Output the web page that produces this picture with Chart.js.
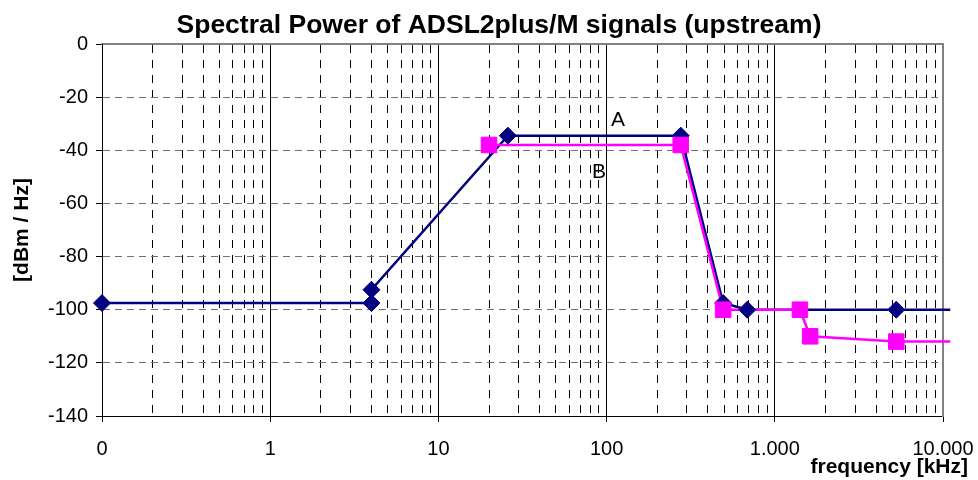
<!DOCTYPE html>
<html>
<head>
<meta charset="utf-8">
<script src="https://cdn.jsdelivr.net/npm/chart.js@4/dist/chart.umd.min.js"></script>
<style>
  body { margin: 0; background: #fff; }
</style>
</head>
<body>
<canvas id="psdChart" width="978" height="480"></canvas>
<script>
// frequency in kHz, level in dBm/Hz
const FREQ_A = [0.1, 4, 4, 25.875, 276, 493, 686, 5275, 11040];
const DBM_A = [-97.5, -97.5, -92.5, -34.5, -34.5, -97.5, -100, -100, -100];
const FREQ_B = [20, 276, 493, 1411, 1622, 5275, 11040];
const DBM_B = [-38, -38, -100, -100, -110, -112, -112];

const X_TICKS = [0.1, 1, 10, 100, 1000, 10000];
const X_TICK_LABELS = ['0', '1', '10', '100', '1.000', '10.000'];
const X_MINOR = [];
X_TICKS.slice(0, -1).forEach(d => {
    [2, 3, 4, 5, 6, 7, 8, 9].forEach(m => X_MINOR.push(d * m));
});
const Y_TICKS = [0, -20, -40, -60, -80, -100, -120, -140];

const SERIES_LABELS = [
    {text: 'A', x: 117, y: -28.6},
    {text: 'B', x: 90, y: -48.2}
];

const NAVY = '#000080';
const MAGENTA = '#FF00FF';
const FONT = 'Liberation Sans, Arial, Helvetica, sans-serif';

Chart.defaults.font.family = FONT;
Chart.defaults.color = '#000';

const toPoints = (xs, ys) => xs.map((x, i) => ({x: x, y: ys[i]}));
const markerRadius = (r) => (ctx) => (ctx.raw && ctx.raw.x > 10000 ? 0 : r);

// excel paints every line first, then the markers
const lineSet = (data, color, order) => ({
    data: data,
    borderColor: color,
    borderWidth: 2.5,
    pointRadius: 0,
    order: order,
    clip: false
});
const markerSet = (data, color, style, r, order) => ({
    data: data,
    showLine: false,
    backgroundColor: color,
    borderColor: color,
    pointStyle: style,
    pointRadius: markerRadius(r),
    pointBorderWidth: 1,
    order: order,
    clip: false
});

const textPlugin = {
    id: 'textLabels',
    afterDraw(chart) {
        const ctx = chart.ctx;
        const xs = chart.scales.x;
        const ys = chart.scales.y;
        ctx.save();
        ctx.fillStyle = '#000';
        ctx.font = 'bold 26.5px ' + FONT;
        ctx.textAlign = 'center';
        ctx.textBaseline = 'middle';
        ctx.fillText('Spectral Power of ADSL2plus/M signals (upstream)', 499, 26);
        ctx.font = '21px ' + FONT;
        SERIES_LABELS.forEach(l => {
            ctx.fillText(l.text, xs.getPixelForValue(l.x), ys.getPixelForValue(l.y));
        });
        ctx.font = 'bold 21px ' + FONT;
        ctx.textAlign = 'right';
        ctx.textBaseline = 'alphabetic';
        ctx.fillText('frequency [kHz]', 968, 473);
        ctx.restore();
    }
};

const dataA = toPoints(FREQ_A, DBM_A);
const dataB = toPoints(FREQ_B, DBM_B);

new Chart(document.getElementById('psdChart'), {
    type: 'line',
    data: {
        datasets: [
            lineSet(dataA, NAVY, 3),
            lineSet(dataB, MAGENTA, 2),
            markerSet(dataA, NAVY, 'rectRot', 8.5, 1),
            markerSet(dataB, MAGENTA, 'rect', 11, 0)
        ]
    },
    options: {
        responsive: false,
        animation: false,
        layout: {padding: {left: 0, right: 0, top: 44, bottom: 0}},
        plugins: {
            legend: {display: false},
            tooltip: {enabled: false},
            title: {display: false}
        },
        scales: {
            x: {
                type: 'logarithmic',
                position: 'bottom',
                min: 0.1,
                max: 10000,
                afterBuildTicks: (s) => { s.ticks = X_TICKS.map(v => ({value: v})); },
                afterFit: (s) => {
                    s.height = 64;
                    // tick padding should not push the plot in from the side
                    s.paddingLeft = 0;
                    s.paddingRight = 0;
                },
                ticks: {
                    autoSkip: false,
                    maxRotation: 0,
                    padding: 15,
                    font: {size: 20},
                    callback: (v, i) => X_TICK_LABELS[i]
                },
                grid: {
                    color: (c) => (c.index === 0 || c.index === X_TICKS.length - 1 ? 'rgba(0,0,0,0)' : '#000'),
                    lineWidth: 1,
                    tickColor: '#000',
                    tickLength: 6
                },
                border: {color: '#000', width: 1}
            },
            xm: {
                type: 'logarithmic',
                position: 'top',
                min: 0.1,
                max: 10000,
                afterBuildTicks: (s) => { s.ticks = X_MINOR.map(v => ({value: v})); },
                afterFit: (s) => { s.height = 0; },
                ticks: {display: false},
                grid: {color: '#000', lineWidth: 1, drawTicks: false},
                border: {display: true, color: '#808080', width: 2, dash: [8, 7]}
            },
            y: {
                min: -140,
                max: 0,
                afterBuildTicks: (s) => { s.ticks = Y_TICKS.map(v => ({value: v})); },
                afterFit: (s) => { s.width = 102; },
                ticks: {padding: 8, font: {size: 20}},
                grid: {
                    color: (c) => (c.tick && (c.tick.value === 0 || c.tick.value === -140) ? 'rgba(0,0,0,0)' : '#707070'),
                    lineWidth: 1,
                    tickColor: '#000',
                    tickLength: 6
                },
                border: {color: '#000', width: 1, dash: [7, 5]},
                title: {
                    display: true,
                    text: '[dBm / Hz]',
                    font: {size: 21, weight: 'bold'},
                    padding: {top: 10, bottom: 0}
                }
            },
            y2: {
                position: 'right',
                min: -140,
                max: 0,
                afterFit: (s) => { s.width = 35; },
                ticks: {display: false},
                grid: {drawOnChartArea: false, drawTicks: false},
                border: {display: true, color: '#808080', width: 2}
            }
        }
    },
    plugins: [textPlugin]
});
</script>
</body>
</html>
